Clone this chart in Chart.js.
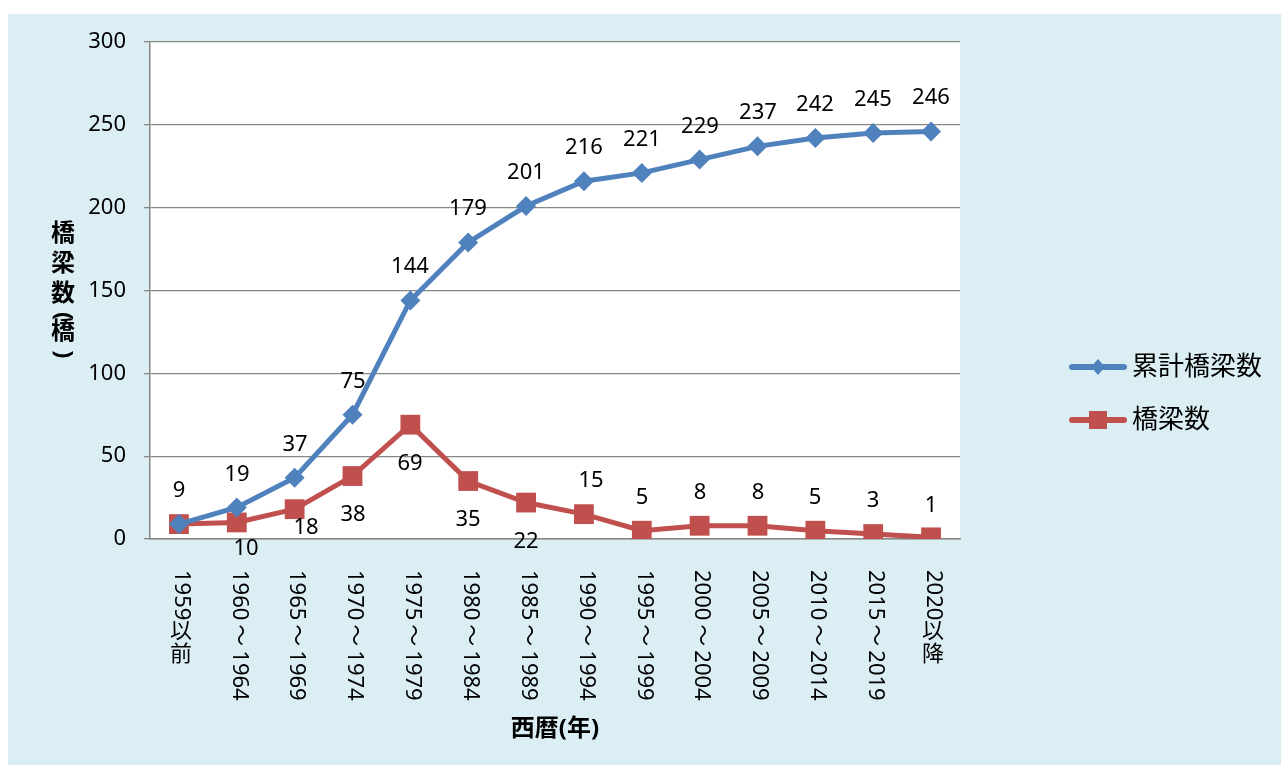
<!DOCTYPE html>
<html>
<head>
<meta charset="utf-8">
<script src="https://cdn.jsdelivr.net/npm/chart.js@4.4.0/dist/chart.umd.min.js"></script>
<style>
  html, body { margin: 0; padding: 0; background: #fff; }
  #wrap { width: 1281px; height: 765px; }
</style>
</head>
<body>
<div id="wrap"><canvas id="chart" width="1281" height="765"></canvas></div>
<script>
// data
const categories = ['1959以前', '1960～1964', '1965～1969', '1970～1974', '1975～1979',
	'1980～1984', '1985～1989', '1990～1994', '1995～1999', '2000～2004',
	'2005～2009', '2010～2014', '2015～2019', '2020以降'];
const cumulativeBridges = [9, 19, 37, 75, 144, 179, 201, 216, 221, 229, 237, 242, 245, 246];
const bridges = [9, 10, 18, 38, 69, 35, 22, 15, 5, 8, 8, 5, 3, 1];
const seriesNames = ['累計橋梁数', '橋梁数'];
const yMin = 0, yMax = 300, yStep = 50;
const yTitle = '橋梁数(橋)';
const xTitle = '西暦(年)';

// look
const BLUE = '#4F81BD';
const RED = '#C0504D';
const PANEL = '#DBEEF4';
const GRID = '#878787';
const FONT = '"Noto Sans", "Noto Sans CJK JP", sans-serif';

// label offsets (px) from the marker, red series follows Excel's mixed placement
const blueLabelOffset = [0, -33];
const redLabelOffsets = [[0, -33], [9, 27], [11, 19], [0, 39], [0, 39], [0, 39], [0, 39],
	[7, -33], [0, -33], [0, -33], [0, -33], [0, -33], [0, -33], [0, -31]];

function isUpright(ch) {
	return /[\u3040-\u30ff\u3400-\u9fff]/.test(ch);
}

// vertical text: CJK upright, wave dash on its own with some air, other runs turned 90deg clockwise
function drawVertical(ctx, text, cx, top, size, step) {
	let y = top;
	let i = 0;
	while (i < text.length) {
		const ch = text[i];
		if (isUpright(ch)) {
			ctx.textAlign = 'center';
			ctx.textBaseline = 'middle';
			ctx.fillText(ch, cx, y + size / 2);
			y += step;
			i++;
		} else {
			let run = '';
			if (ch === '～') {
				run = ch;
				i++;
				y += 4;
			} else {
				while (i < text.length && !isUpright(text[i]) && text[i] !== '～') {
					run += text[i];
					i++;
				}
			}
			const w = ctx.measureText(run).width;
			ctx.save();
			ctx.translate(cx, y);
			ctx.rotate(Math.PI / 2);
			ctx.textAlign = 'left';
			ctx.textBaseline = 'middle';
			ctx.fillText(run, 0, 0);
			ctx.restore();
			y += w + (ch === '～' ? 4 : 0);
		}
	}
}

const panelPlugin = {
	id: 'panel',
	beforeDraw(chart) {
		const ctx = chart.ctx;
		const a = chart.chartArea;
		ctx.save();
		ctx.fillStyle = '#fff';
		ctx.fillRect(0, 0, chart.width, chart.height);
		ctx.fillStyle = PANEL;
		ctx.fillRect(8, 14, chart.width - 8, chart.height - 14);
		ctx.fillStyle = '#fff';
		ctx.fillRect(a.left, a.top, a.right - a.left, a.bottom - a.top);
		ctx.restore();
	}
};

const labelsPlugin = {
	id: 'pointLabels',
	afterDatasetsDraw(chart) {
		const ctx = chart.ctx;
		ctx.save();
		ctx.font = '22px ' + FONT;
		ctx.fillStyle = '#000';
		ctx.textAlign = 'center';
		ctx.textBaseline = 'middle';
		const drawn = [];
		chart.data.datasets.forEach((ds, d) => {
			const meta = chart.getDatasetMeta(d);
			meta.data.forEach((pt, i) => {
				const off = d === 0 ? blueLabelOffset : redLabelOffsets[i];
				const lx = Math.round(pt.x + off[0]);
				const ly = Math.round(pt.y + off[1]);
				const key = ds.data[i] + '@' + lx + ',' + ly;
				if (drawn.includes(key)) return; // identical label on top of itself
				drawn.push(key);
				ctx.fillText(String(ds.data[i]), lx, ly);
			});
		});
		ctx.restore();
	}
};

const axisTextPlugin = {
	id: 'axisText',
	afterDraw(chart) {
		const ctx = chart.ctx;
		const x = chart.scales.x;
		const a = chart.chartArea;
		ctx.save();
		ctx.fillStyle = '#000';

		// category labels
		ctx.font = '22px ' + FONT;
		categories.forEach((c, i) => {
			drawVertical(ctx, c, x.getPixelForValue(i) + 2, a.bottom + 31, 22, 23);
		});

		// axis titles
		ctx.font = 'bold 24px ' + FONT;
		ctx.textAlign = 'center';
		ctx.textBaseline = 'middle';
		ctx.fillText(xTitle, (a.left + a.right) / 2, 729);
		ctx.font = 'bold 24px ' + FONT;
		drawVertical(ctx, yTitle, 63, 222, 24, 30);

		// legend
		const items = [
			{ name: seriesNames[0], color: BLUE, y: 367, shape: 'diamond' },
			{ name: seriesNames[1], color: RED, y: 420, shape: 'square' }
		];
		items.forEach(it => {
			ctx.strokeStyle = it.color;
			ctx.lineWidth = 6;
			ctx.lineCap = 'round';
			ctx.beginPath();
			ctx.moveTo(1072, it.y);
			ctx.lineTo(1124, it.y);
			ctx.stroke();
			ctx.fillStyle = it.color;
			ctx.beginPath();
			if (it.shape === 'diamond') {
				ctx.moveTo(1098, it.y - 8);
				ctx.lineTo(1105, it.y);
				ctx.lineTo(1098, it.y + 8);
				ctx.lineTo(1091, it.y);
				ctx.closePath();
			} else {
				ctx.rect(1089, it.y - 9, 18, 18);
			}
			ctx.fill();
			ctx.fillStyle = '#000';
			ctx.font = '26px ' + FONT;
			ctx.textAlign = 'left';
			ctx.textBaseline = 'middle';
			ctx.fillText(it.name, 1132, it.y + 1);
		});
		ctx.restore();
	}
};

new Chart(document.getElementById('chart'), {
	type: 'line',
	data: {
		labels: categories,
		datasets: [
			{
				label: seriesNames[0],
				data: cumulativeBridges,
				borderColor: BLUE,
				backgroundColor: BLUE,
				borderWidth: 5,
				pointStyle: 'rectRot',
				pointRadius: 10,
				pointBorderWidth: 0,
				tension: 0
			},
			{
				label: seriesNames[1],
				data: bridges,
				borderColor: RED,
				backgroundColor: RED,
				borderWidth: 5,
				pointStyle: 'rect',
				pointRadius: 14,
				pointBorderWidth: 0,
				tension: 0
			}
		]
	},
	options: {
		responsive: false,
		animation: false,
		devicePixelRatio: 1,
		layout: { padding: { left: 0, right: 321, top: 42, bottom: 0 } },
		plugins: {
			legend: { display: false },
			tooltip: { enabled: false }
		},
		scales: {
			x: {
				offset: true,
				grid: { display: false },
				border: { display: true, color: GRID, width: 1.5 },
				ticks: { display: false },
				afterFit(scale) { scale.height = 226; }
			},
			y: {
				min: yMin,
				max: yMax,
				ticks: {
					stepSize: yStep,
					color: '#000',
					padding: 18,
					font: { family: FONT, size: 22 }
				},
				grid: { color: GRID, lineWidth: 1.3, tickLength: 6 },
				border: { display: true, color: GRID, width: 1.5 },
				afterFit(scale) { scale.width = 150; }
			}
		}
	},
	plugins: [panelPlugin, labelsPlugin, axisTextPlugin]
});
</script>
</body>
</html>
